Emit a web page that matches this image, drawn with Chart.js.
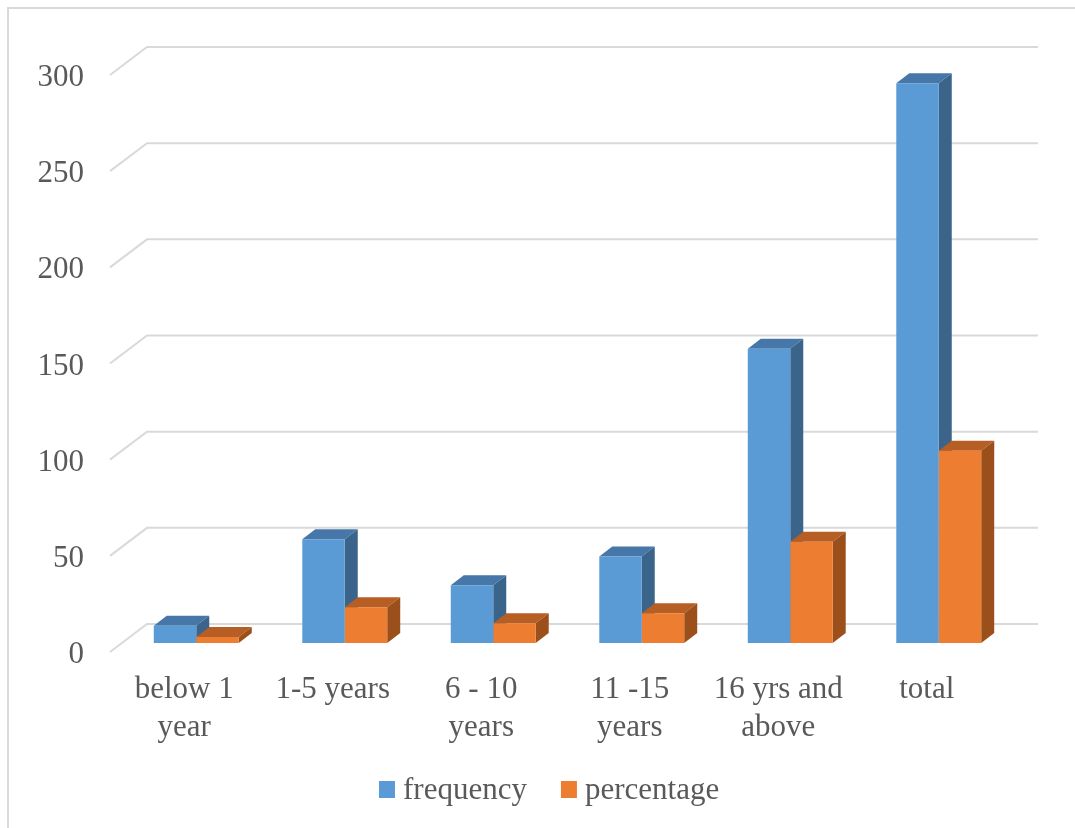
<!DOCTYPE html>
<html>
<head>
<meta charset="utf-8">
<script src="https://cdn.jsdelivr.net/npm/chart.js@4/dist/chart.umd.min.js"></script>
<style>
    html, body { margin: 0; padding: 0; background: #fff; }
    #wrap { width: 1075px; height: 828px; }
</style>
</head>
<body>
<div id="wrap"><canvas id="expChart" width="1075" height="828"></canvas></div>
<script>
const categories = [['below 1', 'year'], ['1-5 years'], ['6 - 10', 'years'], ['11 -15', 'years'], ['16 yrs and', 'above'], ['total']];
const frequency = [9, 54, 30, 45, 153, 291];
const percentage = [3.1, 18.6, 10.3, 15.5, 52.6, 100];
const yTicks = [0, 50, 100, 150, 200, 250, 300];

const FONT = '31px "Liberation Serif", "Times New Roman", serif';
const TEXT = '#595959';
const GRID = '#d9d9d9';

// oblique offsets: bar depth, back wall and front edge relative to the bar plane
const DEPTH = { dx: 13, dy: 10 };
const BACK = { dx: 25, dy: 19 };
const FRONT = { dx: -12, dy: 9 };

const faceColors = [
    { top: '#4677a8', side: '#3a6489' },
    { top: '#b65e23', side: '#9b501c' }
];

function poly(ctx, pts, color) {
    ctx.beginPath();
    ctx.moveTo(pts[0][0], pts[0][1]);
    for (let i = 1; i < pts.length; i++) ctx.lineTo(pts[i][0], pts[i][1]);
    ctx.closePath();
    ctx.fillStyle = color;
    ctx.fill();
}

const columns3d = {
    id: 'columns3d',
    beforeDatasetsDraw(chart) {
        const ctx = chart.ctx;
        const area = chart.chartArea;
        const y = chart.scales.y;
        const x = chart.scales.x;

        ctx.save();
        // frame
        ctx.strokeStyle = GRID;
        ctx.lineWidth = 2;
        ctx.beginPath();
        ctx.moveTo(8, 828);
        ctx.lineTo(8, 8);
        ctx.lineTo(1075, 8);
        ctx.stroke();

        // wall gridlines and floor edges
        yTicks.forEach(v => {
            const py = y.getPixelForValue(v);
            ctx.beginPath();
            ctx.moveTo(area.left + FRONT.dx, py + FRONT.dy);
            ctx.lineTo(area.left + BACK.dx, py - BACK.dy);
            ctx.lineTo(area.right + BACK.dx, py - BACK.dy);
            ctx.stroke();
        });

        // value axis labels
        ctx.font = FONT;
        ctx.fillStyle = TEXT;
        ctx.textAlign = 'right';
        ctx.textBaseline = 'middle';
        yTicks.forEach(v => {
            ctx.fillText(String(v), 84, y.getPixelForValue(v) + FRONT.dy + 3);
        });

        // category labels
        ctx.textAlign = 'center';
        categories.forEach((lines, i) => {
            const px = x.getPixelForValue(i) + FRONT.dx;
            lines.forEach((t, j) => {
                ctx.fillText(t, px, area.bottom + 47 + j * 38);
            });
        });

        // top and side faces of each column
        chart.data.datasets.forEach((ds, di) => {
            const meta = chart.getDatasetMeta(di);
            meta.data.forEach(bar => {
                const l = bar.x - bar.width / 2;
                const r = bar.x + bar.width / 2;
                const t = bar.y;
                const b = bar.base;
                poly(ctx, [[l, t], [l + DEPTH.dx, t - DEPTH.dy], [r + DEPTH.dx, t - DEPTH.dy], [r, t]], faceColors[di].top);
                poly(ctx, [[r, t], [r + DEPTH.dx, t - DEPTH.dy], [r + DEPTH.dx, b - DEPTH.dy], [r, b]], faceColors[di].side);
            });
        });

        // legend
        ctx.textAlign = 'left';
        let lx = 379;
        chart.data.datasets.forEach(ds => {
            ctx.fillStyle = ds.backgroundColor;
            ctx.fillRect(lx, 781, 16, 17);
            ctx.fillStyle = TEXT;
            ctx.fillText(ds.label, lx + 24, 791);
            lx += 24 + ctx.measureText(ds.label).width + 34;
        });
        ctx.restore();
    }
};

new Chart(document.getElementById('expChart'), {
    type: 'bar',
    data: {
        labels: categories,
        datasets: [{
            label: 'frequency',
            data: frequency,
            backgroundColor: '#5b9bd5',
            borderWidth: 0
        }, {
            label: 'percentage',
            data: percentage,
            backgroundColor: '#ed7d31',
            borderWidth: 0
        }]
    },
    options: {
        responsive: false,
        animation: false,
        layout: { padding: { left: 122, right: 62, top: 66, bottom: 185 } },
        datasets: { bar: { categoryPercentage: 0.572, barPercentage: 1 } },
        plugins: { legend: { display: false }, tooltip: { enabled: false } },
        scales: {
            x: { display: false },
            y: { display: false, min: 0, max: 300 }
        }
    },
    plugins: [columns3d]
});
</script>
</body>
</html>
